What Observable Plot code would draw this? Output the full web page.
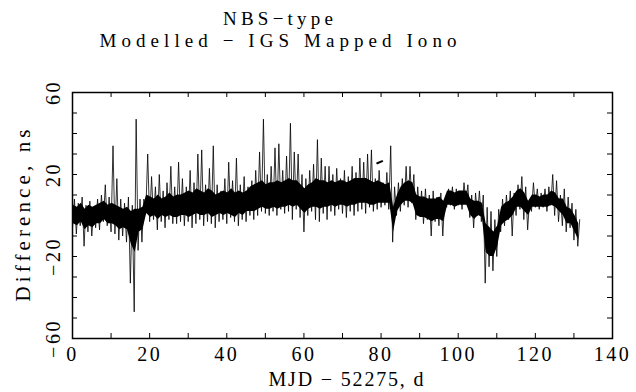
<!DOCTYPE html>
<html>
<head>
<meta charset="utf-8">
<script src="https://cdn.jsdelivr.net/npm/d3@7"></script>
<script src="https://cdn.jsdelivr.net/npm/@observablehq/plot@0.6"></script>
<style>
  html, body { margin: 0; padding: 0; background: #fff; }
  svg { display: block; }
</style>
</head>
<body>
<div id="chart"></div>
<script>
// Day index (MJD - 52275)
const days = d3.range(0, 132);
// Daily upper excursions (ns)
const hi = [8, 6, 9, 5, 7, 4, 8, 10, 15, 9,
            34, 18, 8, 6, 9, 5, 47, 8, 8, 30,
            19, 14, 20, 12, 16, 24, 14, 26, 18, 14,
            22, 16, 30, 32, 15, 23, 34, 15, 12, 18,
            26, 17, 28, 15, 19, 14, 17, 22, 31, 47,
            20, 24, 33, 35, 22, 29, 45, 31, 30, 20,
            18, 22, 25, 37, 28, 24, 24, 20, 23, 18,
            22, 19, 24, 21, 28, 26, 30, 32, 18, 22,
            16, 21, 34, 14, 16, 18, 24, 24, 20, 14,
            12, 13, 10, 12, 9, 11, 8, 13, 14, 13,
            12, 16, 15, 10, 11, 12, 10, 4, 2, -2,
            3, 8, 10, 12, 11, 15, 19, 14, 8, 16,
            13, 11, 13, 14, 20, 17, 10, 13, 9, 6,
            3, -2];
// Daily lower excursions (ns)
const lo = [-6, -9, -5, -15, -8, -10, -6, -7, -3, -5,
            -8, -9, -12, -10, -13, -33, -47, -17, -13, 2,
            -3, -2, -7, -3, -6, -2, -4, -4, -3, -5,
            -3, -6, -4, -2, -5, -3, -4, -6, -3, -2,
            -4, -1, -3, -5, -2, -3, 0, -2, 0, 2,
            1, 0, 2, 0, 3, 1, 2, -2, 3, -1,
            -8, 0, 2, -2, -3, 1, -2, 2, 0, 3,
            1, -1, 2, 0, 2, 3, 1, 4, 2, 3,
            4, 5, 3, -13, 0, 2, 5, 4, 6, -2,
            0, -4, -2, -10, -3, -5, -10, 4, 5, 3,
            5, 3, 6, -1, -6, 0, -3, -33, -25, -27,
            -20, -8, -5, -2, -10, 0, 3, -2, -7, 2,
            4, 3, 4, 2, 5, 0, -3, -5, -8, -6,
            -12, -15];
// Dense core of the trace: daily upper / lower edge (ns)
const coreHi = [5, 4, 6, 3, 5, 4, 5, 6, 7, 5, 6, 5, 4, 3, 4, 2, 3, 3, 4, 10,
                9, 8, 10, 8, 9, 11, 9, 10, 10,
                11, 12, 11, 13, 12, 11, 13, 12, 10, 11, 12, 11, 13, 11, 12, 11, 12,
                14, 15, 16, 17, 15, 16, 16, 17, 16, 17,
                18, 17, 17, 15, 13, 15, 16, 18, 17, 17, 16, 17, 16, 17, 17, 16, 17, 18, 18, 18, 18, 17, 16, 17, 16,
                15, 16, 4, 10, 14, 16, 17, 16,
                10, 9, 9, 8, 8, 8, 9, 7,
                12, 12, 11, 12, 12, 12,
                8, 7, 7, 6,
                -4, -6, -8, -5,
                4, 6, 7,
                9, 12, 13, 11,
                7, 10, 10, 9, 10, 10,
                12, 11, 8, 8,
                4, 3, 0, -4];
const coreLo = [-4, -5, -3, -7, -5, -6, -4, -4, -2, -4, -4, -5, -7, -6, -7, -14, -18, -8, -7, 1,
                -1, 0, -2, 0, -1, 0, -1, -1, 0,
                0, -1, 0, 1, 0, 0, 1, -1, 0, 1, 0, 1, 0, -1, 1, 0, 2,
                2, 2, 3, 4, 3, 3, 4, 3, 4, 4,
                5, 4, 5, 3, 1, 3, 4, 4, 3, 4, 4, 5, 4, 5, 5, 4, 5, 5, 6, 6, 6, 5, 5, 6, 6,
                6, 6, -8, 2, 5, 7, 7, 6,
                0, -1, -1, -2, -3, -2, -2, -3,
                5, 5, 4, 5, 5, 5,
                0, -2, 0, -1,
                -18, -20, -20, -15,
                -5, -3, -2,
                0, 4, 4, 2,
                0, 4, 4, 4, 4, 4,
                5, 4, 2, 0,
                -4, -4, -8, -12];
// Short isolated segment near day 80
const dashT = [79, 80.3];
const dashV = [25.5, 26.5];

const xLabels = [0, 20, 40, 60, 80, 100, 120, 140];
const yLabels = [60, 20, -20, -60];
const xTicks = d3.range(0, 141, 10);
const yTicks = d3.range(-60, 61, 10);

const series = days.flatMap((d, i) => [{t: d, v: lo[i]}, {t: d + 0.5, v: hi[i]}]);
const core = days.map((d, i) => ({t: d + 0.25, a: coreLo[i], b: coreHi[i]}));
const dash = dashT.map((t, i) => ({t, v: dashV[i]}));

const W = 636, H = 392;
const mL = 72, mR = 24, mT = 92, mB = 54;
const fw = W - mL - mR, fh = H - mT - mB;
const font = "Liberation Serif";

const svg = Plot.plot({
  width: W,
  height: H,
  marginLeft: mL, marginRight: mR, marginTop: mT, marginBottom: mB,
  x: {domain: [0, 140], axis: null},
  y: {domain: [-60, 60], axis: null},
  style: {fontFamily: font, background: "#fff", color: "#000"},
  marks: [
    Plot.areaY(core, {x: "t", y1: "a", y2: "b", fill: "#000", clip: true}),
    Plot.line(series, {x: "t", y: "v", stroke: "#000", strokeWidth: 0.8, clip: true}),
    Plot.line(dash, {x: "t", y: "v", stroke: "#000", strokeWidth: 2}),
    // inward ticks
    Plot.ruleX(xTicks, {x: d => d, insetTop: fh - 5, stroke: "#000"}),
    Plot.ruleX(xTicks, {x: d => d, insetBottom: fh - 5, stroke: "#000"}),
    Plot.ruleY(yTicks, {y: d => d, insetRight: fw - 5, stroke: "#000"}),
    Plot.ruleY(yTicks, {y: d => d, insetLeft: fw - 5, stroke: "#000"}),
    Plot.frame({stroke: "#000", strokeWidth: 1.5}),
    // tick labels
    Plot.text(xLabels, {x: d => d, text: d => String(d), frameAnchor: "bottom", lineAnchor: "top", dy: 8,
      fontSize: 20, fill: "#000"}),
    Plot.text(yLabels, {y: d => d, text: d => String(d).replace("-", "\u2212"), frameAnchor: "left", dx: -19,
      rotate: -90, textAnchor: "middle", lineAnchor: "middle", fontSize: 20, fill: "#000"}),
    Plot.text(["Difference, ns"], {frameAnchor: "left", dx: -49, rotate: -90, textAnchor: "middle",
      lineAnchor: "middle", fontSize: 21, fill: "#000"})
  ]
});

const s = d3.select(svg);
s.selectAll("text").style("letter-spacing", "2.5px");
s.selectAll("text").filter(function () { return this.textContent === "Difference, ns"; })
  .attr("textLength", 172).attr("lengthAdjust", "spacing").style("letter-spacing", null);
function addText(str, x, y, size, len) {
  s.append("text")
    .attr("x", x).attr("y", y)
    .attr("text-anchor", "middle")
    .attr("font-family", font)
    .attr("font-size", size)
    .attr("fill", "#000")
    .attr("textLength", len)
    .attr("lengthAdjust", "spacing")
    .text(str);
}
addText("NBS\u2212type", 278, 25, 19, 110);
addText("Modelled \u2212 IGS Mapped Iono", 278, 47, 19, 357);
addText("MJD \u2212 52275, d", 346, 386, 20, 155);

document.getElementById("chart").appendChild(svg);
</script>
</body>
</html>
